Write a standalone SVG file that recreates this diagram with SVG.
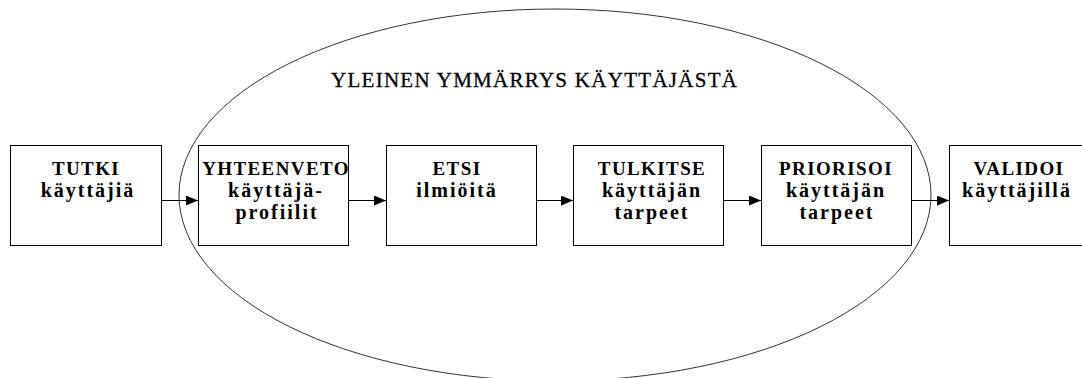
<svg xmlns="http://www.w3.org/2000/svg" width="1082" height="378" viewBox="0 0 1082 378">
  <style>
    .box { fill: #fff; stroke: #000; stroke-width: 1; }
    .lbl { font-family: "Liberation Serif", "Times New Roman", serif; font-size: 19px; font-weight: bold; fill: #000; text-anchor: middle; letter-spacing: 1.4px; }
    .lbl.lc { font-size: 20px; letter-spacing: 2px; }
    .title { font-family: "Liberation Serif", "Times New Roman", serif; font-size: 21px; fill: #000; stroke: #000; stroke-width: 0.3px; }
    .conn { stroke: #000; stroke-width: 1; fill: none; }
  </style>
  <defs>
    <marker id="arrow" markerWidth="12" markerHeight="10" refX="12" refY="5" orient="auto" markerUnits="userSpaceOnUse">
      <path d="M0,0 L12,5 L0,10 Z" fill="#000"/>
    </marker>
  </defs>
  <rect width="1082" height="378" fill="#fff"/>

  <!-- overall scope: general understanding of the user -->
  <g id="scope">
    <ellipse cx="555" cy="195" rx="376" ry="186" fill="none" stroke="#333" stroke-width="1"/>
    <text class="title" x="331" y="87" textLength="406" lengthAdjust="spacing">YLEINEN YMMÄRRYS KÄYTTÄJÄSTÄ</text>
  </g>

  <g id="n-tutki">
    <rect class="box" x="10.5" y="145.5" width="151" height="100"/>
    <text class="lbl" x="86" y="175">TUTKI</text>
    <text class="lbl lc" x="88" y="197">käyttäjiä</text>
  </g>

  <g id="n-yhteenveto">
    <rect class="box" x="198.5" y="145.5" width="150" height="100"/>
    <text class="lbl" x="276" y="175">YHTEENVETO</text>
    <text class="lbl lc" x="276" y="197">käyttäjä-</text>
    <text class="lbl lc" x="277" y="219">profiilit</text>
  </g>

  <g id="n-etsi">
    <rect class="box" x="386.5" y="145.5" width="150" height="100"/>
    <text class="lbl" x="457" y="175">ETSI</text>
    <text class="lbl lc" x="457" y="197">ilmiöitä</text>
  </g>

  <g id="n-tulkitse">
    <rect class="box" x="573.5" y="145.5" width="150" height="100"/>
    <text class="lbl" x="652" y="175">TULKITSE</text>
    <text class="lbl lc" x="652" y="197">käyttäjän</text>
    <text class="lbl lc" x="652" y="219">tarpeet</text>
  </g>

  <g id="n-priorisoi">
    <rect class="box" x="761.5" y="145.5" width="150" height="100"/>
    <text class="lbl" x="836" y="175">PRIORISOI</text>
    <text class="lbl lc" x="836" y="197">käyttäjän</text>
    <text class="lbl lc" x="837" y="219">tarpeet</text>
  </g>

  <g id="n-validoi">
    <rect class="box" x="949.5" y="145.5" width="150" height="100"/>
    <text class="lbl" x="1019" y="175">VALIDOI</text>
    <text class="lbl lc" x="1017" y="197">käyttäjillä</text>
  </g>

  <g id="connectors">
    <line class="conn" x1="161" y1="200.5" x2="198" y2="200.5" marker-end="url(#arrow)"/>
    <line class="conn" x1="348" y1="200.5" x2="386" y2="200.5" marker-end="url(#arrow)"/>
    <line class="conn" x1="536" y1="200.5" x2="573" y2="200.5" marker-end="url(#arrow)"/>
    <line class="conn" x1="723" y1="200.5" x2="761" y2="200.5" marker-end="url(#arrow)"/>
    <line class="conn" x1="911" y1="200.5" x2="949" y2="200.5" marker-end="url(#arrow)"/>
  </g>
</svg>
